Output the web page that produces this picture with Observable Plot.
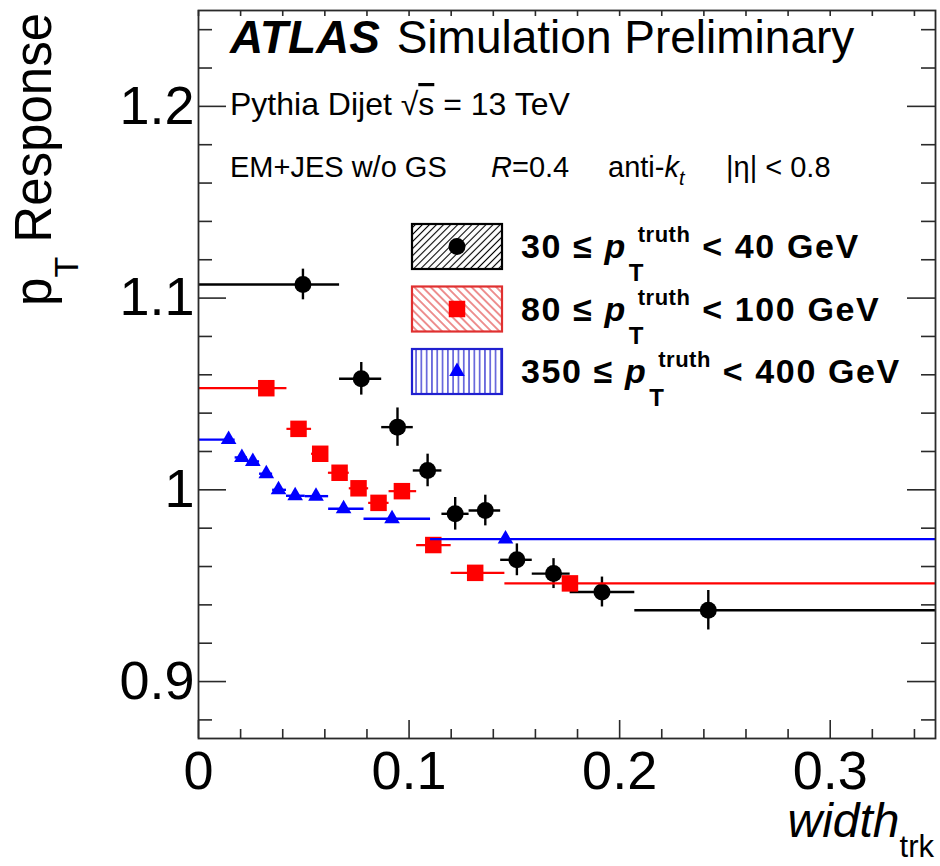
<!DOCTYPE html>
<html><head><meta charset="utf-8">
<script src="https://cdn.jsdelivr.net/npm/d3@7"></script>
<script src="https://cdn.jsdelivr.net/npm/@observablehq/plot@0.6"></script>
<style>
body{margin:0;background:#fff}
#chart{position:relative;width:940px;height:866px}
</style>
</head><body><div id="chart"></div>
<script>
// ---- series: 30 <= pT < 40 GeV (black circles)
const blackX   = [0.0496, 0.0773, 0.0945, 0.1088, 0.1219, 0.1362, 0.1512, 0.1686, 0.1916, 0.2421];
const blackY   = [1.1071, 1.0579, 1.0327, 1.0101, 0.9875, 0.9892, 0.9635, 0.9563, 0.9467, 0.9372];
const blackErr = [0.0080, 0.0085, 0.0100, 0.0085, 0.0085, 0.0080, 0.0083, 0.0078, 0.0078, 0.0103];
const blackLo  = [0, 0.067, 0.087, 0.102, 0.1156, 0.1285, 0.1435, 0.1585, 0.1765, 0.2072];
const blackHi  = [0.067, 0.087, 0.102, 0.1156, 0.1285, 0.1435, 0.1585, 0.1765, 0.2072, 0.35];
// ---- series: 80 <= pT < 100 GeV (red squares)
const redX   = [0.0322, 0.0475, 0.0578, 0.0670, 0.0760, 0.0855, 0.0966, 0.1115, 0.1314, 0.1764];
const redY   = [1.0530, 1.0318, 1.0188, 1.0089, 1.0008, 0.9932, 0.9993, 0.9712, 0.9567, 0.9512];
const redErr = [0.002, 0.002, 0.002, 0.002, 0.002, 0.002, 0.002, 0.002, 0.002, 0.002];
const redLo  = [0, 0.042, 0.0537, 0.0617, 0.0716, 0.0808, 0.0905, 0.1036, 0.1200, 0.1455];
const redHi  = [0.042, 0.0537, 0.0617, 0.0716, 0.0808, 0.0905, 0.1036, 0.1200, 0.1455, 0.35];
// ---- series: 350 <= pT < 400 GeV (blue triangles)
const blueX   = [0.0143, 0.0206, 0.0258, 0.0322, 0.0380, 0.0459, 0.0558, 0.0689, 0.0919, 0.1458];
const blueY   = [1.0262, 1.0169, 1.0148, 1.0084, 1.0000, 0.9969, 0.9967, 0.9901, 0.9849, 0.9743];
const blueErr = [0.0015, 0.0015, 0.0015, 0.0015, 0.0015, 0.0015, 0.0015, 0.0015, 0.0015, 0.0015];
const blueLo  = [0, 0.0174, 0.0232, 0.0290, 0.0352, 0.0418, 0.0507, 0.0618, 0.0786, 0.1102];
const blueHi  = [0.0174, 0.0232, 0.0290, 0.0352, 0.0418, 0.0507, 0.0618, 0.0786, 0.1102, 0.35];
// ---- ticks
const xMajor = [0, 0.1, 0.2, 0.3];
const xMajorLabels = ["0", "0.1", "0.2", "0.3"];
const xMinor = [0.02,0.04,0.06,0.08,0.12,0.14,0.16,0.18,0.22,0.24,0.26,0.28,0.32,0.34];
const yMajor = [0.9, 1.0, 1.1, 1.2];
const yMajorLabels = ["0.9", "1", "1.1", "1.2"];
const yMinor = [0.88,0.92,0.94,0.96,0.98,1.02,1.04,1.06,1.08,1.12,1.14,1.16,1.18,1.22,1.24];
const xDomain = [0, 0.35];
const yDomain = [0.8703, 1.25];
// ---- texts
const legendLabels = [
  {lo: "30", hi: "40"},
  {lo: "80", hi: "100"},
  {lo: "350", hi: "400"}
];

const rows = (xs, ys, es, lo, hi) => xs.map((x, i) => ({x, y: ys[i], e: es[i], lo: lo[i], hi: hi[i]}));
const black = rows(blackX, blackY, blackErr, blackLo, blackHi);
const red = rows(redX, redY, redErr, redLo, redHi);
const blue = rows(blueX, blueY, blueErr, blueLo, blueHi);

const W = 940, H = 866, mL = 198, mR = 5, mT = 10, mB = 128;
const pw = W - mL - mR, ph = H - mT - mB;
const AX = "#2a2a2a";
const FONT = "'Liberation Sans', Arial, Helvetica, sans-serif";
const RED = "#ff0000", BLUE = "#0000ff";

const errMarks = (data, color, sw) => [
  Plot.ruleY(data, {x1: "lo", x2: "hi", y: "y", stroke: color, strokeWidth: sw}),
  Plot.ruleX(data, {x: "x", y1: d => d.y - d.e, y2: d => d.y + d.e, stroke: color, strokeWidth: sw})
];

const plot = Plot.plot({
  width: W, height: H,
  marginLeft: mL, marginRight: mR, marginTop: mT, marginBottom: mB,
  style: {fontFamily: FONT, background: "#fff", color: "#000", overflow: "visible"},
  x: {domain: xDomain},
  y: {domain: yDomain},
  marks: [
    // inward ticks, left / right
    Plot.ruleY(yMinor, {y: d => d, stroke: AX, strokeWidth: 1.6, insetRight: pw - 14}),
    Plot.ruleY(yMajor, {y: d => d, stroke: AX, strokeWidth: 1.6, insetRight: pw - 28}),
    Plot.ruleY(yMinor, {y: d => d, stroke: AX, strokeWidth: 1.6, insetLeft: pw - 14}),
    Plot.ruleY(yMajor, {y: d => d, stroke: AX, strokeWidth: 1.6, insetLeft: pw - 28}),
    // inward ticks, bottom / top
    Plot.ruleX(xMinor, {x: d => d, stroke: AX, strokeWidth: 1.6, insetTop: ph - 9}),
    Plot.ruleX(xMajor, {x: d => d, stroke: AX, strokeWidth: 1.6, insetTop: ph - 18}),
    Plot.ruleX(xMinor.concat(xMajor), {x: d => d, stroke: AX, strokeWidth: 1.6, insetBottom: ph - 6}),
    ...errMarks(black, "#000", 2.4),
    Plot.dot(black, {x: "x", y: "y", r: 8.5, fill: "#000", symbol: "circle"}),
    ...errMarks(red, RED, 2.2),
    Plot.dot(red, {x: "x", y: "y", r: 9.3, fill: RED, symbol: "square"}),
    ...errMarks(blue, BLUE, 2.4),
    Plot.dot(blue, {x: "x", y: "y", r: 5.8, fill: BLUE, symbol: "triangle"}),
    Plot.axisX(xMajor, {tickSize: 0, tickPadding: 12, fontSize: 54, label: null,
      tickFormat: d => xMajorLabels[xMajor.indexOf(d)]}),
    Plot.axisY(yMajor, {tickSize: 0, tickPadding: 4, fontSize: 54, label: null,
      tickFormat: d => yMajorLabels[yMajor.indexOf(d)]}),
    Plot.frame({stroke: AX, strokeWidth: 1.8})
  ]
});
document.getElementById("chart").appendChild(plot);

const svg = d3.select(plot);
const g = svg.append("g").attr("font-family", FONT).attr("fill", "#000").attr("text-anchor", "start");

// ATLAS label
const t1 = g.append("text").attr("x", 230).attr("y", 53).attr("font-size", 46);
t1.append("tspan").attr("font-weight", "bold").attr("font-style", "italic").text("ATLAS");
t1.append("tspan").attr("dx", 4).text(" Simulation Preliminary");

const t2 = g.append("text").attr("x", 230).attr("y", 115).attr("font-size", 32);
t2.append("tspan").text("Pythia Dijet \u221A");
t2.append("tspan").style("text-decoration", "overline").text("s");
t2.append("tspan").text(" = 13 TeV");

const t3y = 177;
g.append("text").attr("x", 230).attr("y", t3y).attr("font-size", 29).text("EM+JES w/o GS");
const t3b = g.append("text").attr("x", 491).attr("y", t3y).attr("font-size", 29);
t3b.append("tspan").attr("font-style", "italic").text("R");
t3b.append("tspan").text("=0.4");
const t3c = g.append("text").attr("x", 608).attr("y", t3y).attr("font-size", 29);
t3c.append("tspan").text("anti-");
t3c.append("tspan").attr("font-style", "italic").text("k");
t3c.append("tspan").attr("font-style", "italic").attr("font-size", 20).attr("dy", 8).text("t");
g.append("text").attr("x", 726).attr("y", t3y).attr("font-size", 29).text("|\u03B7| < 0.8");

// axis titles
const yt = g.append("text").attr("transform", "translate(51,13) rotate(-90)")
  .attr("text-anchor", "end").attr("font-size", 51);
yt.append("tspan").text("p");
yt.append("tspan").attr("font-size", 34).attr("dy", 27).text("T");
yt.append("tspan").attr("dy", -27).text(" Response");

const xt = g.append("text").attr("x", 934).attr("y", 837).attr("text-anchor", "end").attr("font-size", 48);
xt.append("tspan").attr("font-style", "italic").text("width");
xt.append("tspan").attr("font-size", 31).attr("dy", 20).text("trk");

// legend
const defs = svg.append("defs");
function hatch(id, color, spacing, angle, sw) {
  const p = defs.append("pattern").attr("id", id).attr("patternUnits", "userSpaceOnUse")
    .attr("width", spacing).attr("height", spacing).attr("patternTransform", `rotate(${angle})`);
  p.append("rect").attr("width", spacing).attr("height", spacing).attr("fill", "#fff");
  p.append("line").attr("x1", spacing / 2).attr("x2", spacing / 2).attr("y1", 0).attr("y2", spacing)
    .attr("stroke", color).attr("stroke-width", sw);
}
hatch("hBlack", "#000", 5, 45, 1.1);
hatch("hRed", "#d22", 5.8, -45, 1.0);
hatch("hBlue", "#22c", 5.3, 0, 1.2);

const legendStyle = [
  {pat: "hBlack", stroke: "#000", fill: "#000", sym: d3.symbolCircle, r: 8.5},
  {pat: "hRed", stroke: "#e03030", fill: RED, sym: d3.symbolSquare, r: 9.3},
  {pat: "hBlue", stroke: "#2020d0", fill: BLUE, sym: d3.symbolTriangle, r: 5.8}
];
const boxX = 412, boxW = 90, boxH = 45, rowY0 = 224, rowStep = 62.5;
legendLabels.forEach((lab, i) => {
  const st = legendStyle[i];
  const top = rowY0 + i * rowStep;
  g.append("rect").attr("x", boxX).attr("y", top).attr("width", boxW).attr("height", boxH)
    .attr("fill", `url(#${st.pat})`).attr("stroke", st.stroke).attr("stroke-width", 2.2);
  g.append("path").attr("transform", `translate(${boxX + 45},${top + boxH / 2})`)
    .attr("d", d3.symbol(st.sym, st.r * st.r * Math.PI)()).attr("fill", st.fill);
  const base = top + 34;
  const fs = 34, ls = 1.6;
  const a = g.append("text").attr("x", 521).attr("y", base).attr("font-size", fs)
    .attr("font-weight", "bold").attr("letter-spacing", ls);
  a.append("tspan").text(lab.lo + " \u2264 ");
  a.append("tspan").attr("font-style", "italic").text("p");
  const endA = 521 + a.node().getComputedTextLength();
  g.append("text").attr("x", endA + 2).attr("y", base + 23).attr("font-size", 24)
    .attr("font-weight", "bold").text("T");
  const sup = g.append("text").attr("x", endA + 11).attr("y", base - 16).attr("font-size", 22)
    .attr("font-weight", "bold").attr("letter-spacing", 0.5).text("truth");
  const endS = endA + 11 + sup.node().getComputedTextLength();
  g.append("text").attr("x", endS + 12).attr("y", base).attr("font-size", fs)
    .attr("font-weight", "bold").attr("letter-spacing", ls).text(`< ${lab.hi} GeV`);
});
</script>
</body></html>
